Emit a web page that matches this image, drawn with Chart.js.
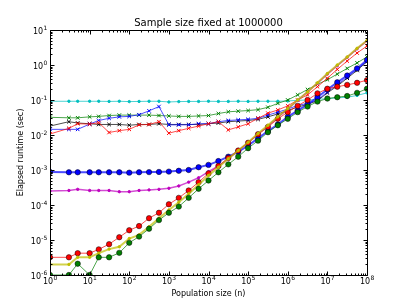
<!DOCTYPE html>
<html>
<head>
<meta charset="utf-8">
<script src="https://cdn.jsdelivr.net/npm/chart.js@4.4.0/dist/chart.umd.min.js"></script>
<style>
  html, body { margin: 0; padding: 0; background: #fff; }
  canvas { display: block; }
</style>
</head>
<body>
<canvas id="chart" width="407" height="305"></canvas>
<script>
// population sizes (x) and elapsed runtimes (sec) per method
const populationSizes = [1, 3, 5, 10, 17, 31, 56, 100, 177, 316, 562, 1000, 1778, 3162, 5623, 10000,
  17782, 31622, 56234, 100000, 177827, 316227, 562341, 1000000, 1778279, 3162277, 5623413, 10000000,
  17782794, 31622776, 56234132, 100000000];

const cyanDots = [0.092, 0.092, 0.092, 0.092, 0.092, 0.091, 0.092, 0.09, 0.091, 0.092, 0.092, 0.088, 0.09, 0.091, 0.091, 0.092,
  0.091, 0.091, 0.092, 0.091, 0.092, 0.092, 0.092, 0.094, 0.098, 0.1, 0.104, 0.11, 0.115, 0.12, 0.135, 0.16];
const greenCross = [0.032, 0.031, 0.031, 0.033, 0.034, 0.036, 0.037, 0.037, 0.037, 0.037, 0.036, 0.035, 0.034, 0.034, 0.035, 0.036,
  0.041, 0.046, 0.048, 0.05, 0.053, 0.062, 0.08, 0.1, 0.14, 0.2, 0.28, 0.38, 0.55, 0.8, 1.15, 1.7];
const blackCross = [0.018, 0.024, 0.022, 0.021, 0.02, 0.02, 0.02, 0.019, 0.02, 0.02, 0.021, 0.02, 0.02, 0.02, 0.02, 0.021,
  0.022, 0.024, 0.025, 0.026, 0.028, 0.033, 0.04, 0.05, 0.063, 0.075, 0.095, 0.16, 0.25, 0.42, 0.7, 1.25];
const blueCross = [0.0145, 0.0145, 0.0145, 0.0205, 0.026, 0.03, 0.033, 0.034, 0.038, 0.049, 0.065, 0.0195, 0.0195, 0.0195, 0.021, 0.021,
  0.024, 0.026, 0.027, 0.028, 0.03, 0.037, 0.045, 0.055, 0.07, 0.08, 0.1, 0.17, 0.27, 0.45, 0.75, 1.3];
const redCross = [0.0107, 0.0155, 0.021, 0.0205, 0.0225, 0.0118, 0.0133, 0.0145, 0.0195, 0.02, 0.024, 0.0113, 0.0133, 0.0155, 0.018, 0.021,
  0.024, 0.014, 0.017, 0.021, 0.03, 0.042, 0.052, 0.068, 0.1, 0.14, 0.24, 0.42, 0.75, 1.3, 2.2, 3.5];
const blueCircles = [0.00088, 0.00086, 0.00086, 0.00086, 0.00086, 0.00086, 0.00086, 0.00084, 0.00086, 0.00087, 0.00088, 0.0009, 0.00095, 0.001, 0.0012, 0.0014,
  0.0018, 0.0024, 0.0033, 0.005, 0.008, 0.013, 0.02, 0.033, 0.05, 0.075, 0.12, 0.2, 0.32, 0.5, 0.8, 1.4];
const magentaDots = [0.00025, 0.00026, 0.00028, 0.00026, 0.00026, 0.00026, 0.00024, 0.00024, 0.00026, 0.00027, 0.00028, 0.0003, 0.00035, 0.00045, 0.0006, 0.0009,
  0.0013, 0.0021, 0.0036, 0.006, 0.0105, 0.018, 0.032, 0.055, 0.098, 0.17, 0.3, 0.55, 0.95, 1.65, 2.9, 4.9];
const redCircles = [3.2e-6, 3.2e-6, 4.2e-6, 4.2e-6, 5.4e-6, 7.6e-6, 1.2e-5, 1.9e-5, 2.5e-5, 4.2e-5, 6e-5, 1.05e-4, 1.6e-4, 2.6e-4, 4.5e-4, 8e-4,
  1.3e-3, 2.2e-3, 3.6e-3, 6e-3, 0.0105, 0.017, 0.029, 0.045, 0.068, 0.1, 0.155, 0.21, 0.24, 0.27, 0.31, 0.37];
const yellowDots = [2e-6, 2e-6, 3.2e-6, 3.2e-6, 4.2e-6, 5.5e-6, 6.4e-6, 1.1e-5, 1.4e-5, 2.4e-5, 4.2e-5, 7.2e-5, 1.2e-4, 2.1e-4, 3.8e-4, 7e-4,
  1.2e-3, 2.1e-3, 3.6e-3, 6.2e-3, 0.011, 0.019, 0.033, 0.057, 0.1, 0.17, 0.31, 0.57, 1.0, 1.7, 3.0, 5.0];
const greenCircles = [1e-6, 1e-6, 2.1e-6, 1e-6, 3.2e-6, 3.2e-6, 4.3e-6, 8.3e-6, 1.25e-5, 2.1e-5, 3.7e-5, 6e-5, 9e-5, 1.6e-4, 2.9e-4, 5e-4,
  8.6e-4, 1.45e-3, 2.4e-3, 4.2e-3, 6.9e-3, 0.012, 0.019, 0.029, 0.045, 0.065, 0.09, 0.11, 0.12, 0.13, 0.16, 0.21];

const xTicks = [1, 10, 100, 1e3, 1e4, 1e5, 1e6, 1e7, 1e8];
const yTicks = [1e-6, 1e-5, 1e-4, 1e-3, 1e-2, 1e-1, 1, 10];

const BASE_FONT = '8px "DejaVu Sans"';
const SUP_FONT = '6px "DejaVu Sans"';

function series(values, color, marker) {
  const ds = {
    data: populationSizes.map((x, i) => ({ x: x, y: values[i] })),
    borderColor: color + 'b3',
    borderWidth: 1,
    pointBackgroundColor: color,
    pointBorderColor: color,
    pointBorderWidth: 1,
    pointRadius: 1.2,
    pointStyle: 'circle',
    tension: 0
  };
  if (marker === 'o') {
    ds.pointRadius = 2.7;
    ds.pointBorderColor = '#000';
    ds.pointBorderWidth = 0.5;
  } else if (marker === 'x') {
    ds.pointStyle = 'crossRot';
    ds.pointRadius = 2.5;
  }
  return ds;
}

// matplotlib-style frame, inward ticks and 10^n labels
const logAxes = {
  id: 'logAxes',
  afterDraw(chart) {
    const { ctx, chartArea: a, scales: { x, y } } = chart;
    const L = Math.round(a.left) + 0.5, R = Math.round(a.right) + 0.5;
    const T = Math.round(a.top) + 0.5, B = Math.round(a.bottom) + 0.5;
    ctx.save();
    ctx.strokeStyle = '#000';
    ctx.lineWidth = 1;
    ctx.beginPath();
    ctx.rect(L, T, R - L, B - T);
    const xMinor = [], yMinor = [];
    xTicks.slice(0, -1).forEach(d => { for (let k = 2; k < 10; k++) xMinor.push(d * k); });
    yTicks.slice(0, -1).forEach(d => { for (let k = 2; k < 10; k++) yMinor.push(d * k); });
    const vt = (v, len) => {
      const px = Math.round(x.getPixelForValue(v)) + 0.5;
      ctx.moveTo(px, B); ctx.lineTo(px, B - len);
      ctx.moveTo(px, T); ctx.lineTo(px, T + len);
    };
    const ht = (v, len) => {
      const py = Math.round(y.getPixelForValue(v)) + 0.5;
      ctx.moveTo(L, py); ctx.lineTo(L + len, py);
      ctx.moveTo(R, py); ctx.lineTo(R - len, py);
    };
    xTicks.forEach(v => vt(v, 4));
    xMinor.forEach(v => vt(v, 2));
    yTicks.forEach(v => ht(v, 4));
    yMinor.forEach(v => ht(v, 2));
    ctx.stroke();

    ctx.fillStyle = '#000';
    ctx.textBaseline = 'alphabetic';
    ctx.textAlign = 'left';
    const expOf = v => String(Math.round(Math.log10(v)));
    const widths = v => {
      ctx.font = BASE_FONT;
      const wb = ctx.measureText('10').width;
      ctx.font = SUP_FONT;
      const ws = ctx.measureText(expOf(v)).width;
      return [wb, ws];
    };
    const draw = (v, left, base) => {
      const [wb] = widths(v);
      ctx.font = BASE_FONT;
      ctx.fillText('10', left, base);
      ctx.font = SUP_FONT;
      ctx.fillText(expOf(v), left + wb + 0.3, base - 4);
    };
    xTicks.forEach(v => {
      const [wb, ws] = widths(v);
      const px = x.getPixelForValue(v);
      draw(v, px - (wb + ws) / 2, B + 8.5);
    });
    yTicks.forEach(v => {
      const [wb, ws] = widths(v);
      const py = y.getPixelForValue(v);
      draw(v, L - 3.5 - (wb + ws), py + 3.5);
    });
    ctx.restore();
  }
};

const datasets = [
  series(cyanDots, '#00bfbf', '.'),
  series(greenCross, '#008000', 'x'),
  series(blackCross, '#000000', 'x'),
  series(blueCross, '#0000ff', 'x'),
  series(redCross, '#ff0000', 'x'),
  Object.assign(series(blueCircles, '#0000ff', 'o'), { borderWidth: 2 }),
  Object.assign(series(magentaDots, '#bf00bf', '.'), { borderWidth: 1.5 }),
  series(redCircles, '#ff0000', 'o'),
  Object.assign(series(yellowDots, '#bfbf00', '.'), { borderWidth: 2 }),
  series(greenCircles, '#008000', 'o')
];
// later series drawn on top, as in the original plot
datasets.forEach((ds, i) => { ds.order = datasets.length - i; });

new Chart(document.getElementById('chart'), {
  type: 'line',
  data: { datasets: datasets },
  options: {
    responsive: false,
    animation: false,
    devicePixelRatio: 1,
    layout: { padding: { left: 0, right: 40, top: 0, bottom: 0 } },
    plugins: {
      legend: { display: false },
      tooltip: { enabled: false },
      title: {
        display: true,
        fullSize: false,
        text: 'Sample size fixed at 1000000',
        color: '#000',
        font: { family: 'DejaVu Sans', size: 10, weight: 'normal' },
        padding: { top: 17, bottom: 1 }
      }
    },
    scales: {
      x: {
        type: 'logarithmic',
        min: 1,
        max: 1e8,
        afterBuildTicks: s => { s.ticks = xTicks.map(v => ({ value: v })); },
        afterFit: s => { s.height = 30; },
        grid: { display: false, drawTicks: false },
        border: { display: false },
        ticks: { display: false },
        title: {
          display: true,
          text: 'Population size (n)',
          color: '#000',
          font: { family: 'DejaVu Sans', size: 8 },
          padding: { top: 0, bottom: 6 }
        }
      },
      y: {
        type: 'logarithmic',
        min: 1e-6,
        max: 10,
        afterBuildTicks: s => { s.ticks = yTicks.map(v => ({ value: v })); },
        afterFit: s => { s.width = 50; },
        grid: { display: false, drawTicks: false },
        border: { display: false },
        ticks: { display: false },
        title: {
          display: true,
          text: 'Elapsed runtime (sec)',
          color: '#000',
          font: { family: 'DejaVu Sans', size: 8 },
          padding: { top: 16, bottom: 0 }
        }
      }
    }
  },
  plugins: [logAxes]
});
</script>
</body>
</html>
